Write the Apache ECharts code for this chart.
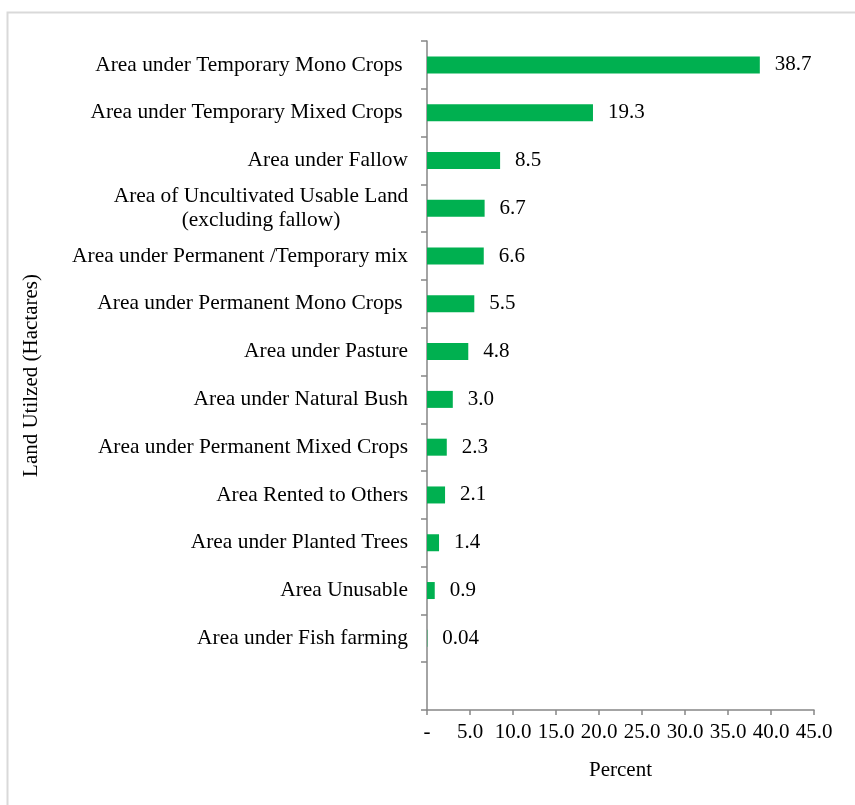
<!DOCTYPE html>
<html>
<head>
<meta charset="utf-8">
<script src="https://cdn.jsdelivr.net/npm/echarts@6/dist/echarts.min.js"></script>
<style>html,body{margin:0;padding:0;background:#fff}#c{width:855px;height:805px}</style>
</head>
<body>
<div id="c"></div>
<script>
const categories = [
  'Area under Temporary Mono Crops ',
  'Area under Temporary Mixed Crops ',
  'Area under Fallow',
  'Area of Uncultivated Usable Land\n(excluding fallow)',
  'Area under Permanent /Temporary mix',
  'Area under Permanent Mono Crops ',
  'Area under Pasture',
  'Area under Natural Bush',
  'Area under Permanent Mixed Crops',
  'Area Rented to Others',
  'Area under Planted Trees',
  'Area Unusable',
  'Area under Fish farming',
  ''
];
const values = [38.7, 19.3, 8.5, 6.7, 6.6, 5.5, 4.8, 3.0, 2.3, 2.1, 1.4, 0.9, 0.04, null];
const valueLabels = ['38.7','19.3','8.5','6.7','6.6','5.5','4.8','3.0','2.3','2.1','1.4','0.9','0.04',''];
const xTickLabels = ['-','5.0','10.0','15.0','20.0','25.0','30.0','35.0','40.0','45.0'];

const FONT = '"Liberation Serif", "Times New Roman", serif';
const chart = echarts.init(document.getElementById('c'));
chart.setOption({
  animation: false,
  backgroundColor: '#ffffff',
  graphic: [{
    type: 'rect', left: 5, top: 10, silent: true,
    shape: {x: 0, y: 0, width: 900, height: 900},
    style: {fill: 'none', stroke: '#d9d9d9', lineWidth: 2}
  }],
  grid: {left: 427, top: 41, right: 41, bottom: 95, containLabel: false},
  xAxis: {
    type: 'value', min: 0, max: 45, interval: 5,
    name: 'Percent', nameLocation: 'middle', nameGap: 50,
    nameTextStyle: {fontFamily: FONT, fontSize: 21, color: '#000'},
    axisLine: {show: true, lineStyle: {color: '#868686', width: 1.5}},
    axisTick: {show: true, length: 5, lineStyle: {color: '#868686', width: 1.5}},
    splitLine: {show: false},
    axisLabel: {
      margin: 12, fontFamily: FONT, fontSize: 21, color: '#000',
      formatter: function (v) { return xTickLabels[Math.round(v / 5)]; }
    }
  },
  yAxis: {
    type: 'category', data: categories, inverse: true,
    name: 'Land Utilzed (Hactares)', nameLocation: 'middle', nameGap: 385,
    nameTextStyle: {fontFamily: FONT, fontSize: 21, color: '#000'},
    axisLine: {show: true, lineStyle: {color: '#868686', width: 1.5}},
    axisTick: {show: true, length: 6, alignWithLabel: false, lineStyle: {color: '#868686', width: 1.5}},
    axisLabel: {
      margin: 19, fontFamily: FONT, fontSize: 21.4, color: '#000', interval: 0,
      formatter: function (v) {
        if (v.indexOf('\n') >= 0) {
          return v.split('\n').map(function (s) { return '{c|' + s + '}'; }).join('\n');
        }
        return v;
      },
      rich: {c: {width: 294, align: 'center', fontFamily: FONT, fontSize: 21.4, color: '#000', lineHeight: 24}}
    }
  },
  series: [{
    type: 'bar', data: values, barWidth: 17,
    itemStyle: {color: '#00b050'},
    label: {
      show: true, position: 'right', distance: 15,
      fontFamily: FONT, fontSize: 21, color: '#000',
      formatter: function (p) { return valueLabels[p.dataIndex]; }
    }
  }]
});
</script>
</body>
</html>
